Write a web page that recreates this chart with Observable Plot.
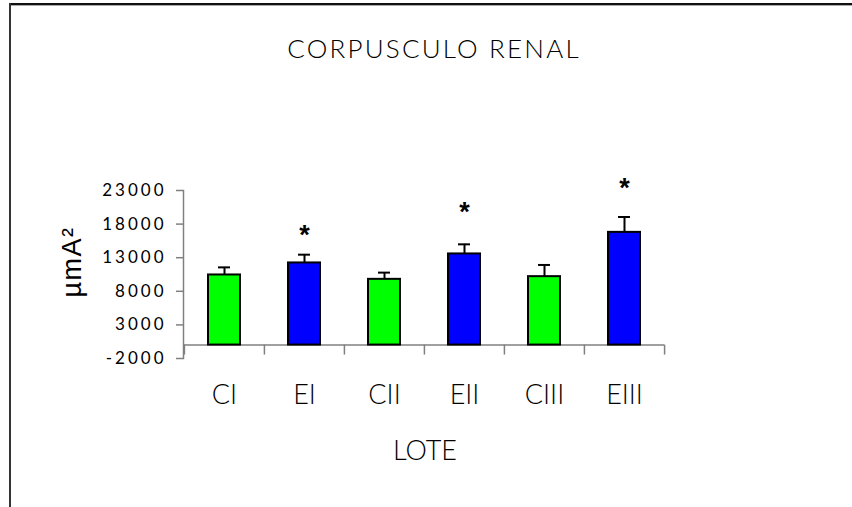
<!DOCTYPE html>
<html>
<head>
<meta charset="utf-8">
<script src="https://cdn.jsdelivr.net/npm/d3@7"></script>
<script src="https://cdn.jsdelivr.net/npm/@observablehq/plot@0.6"></script>
<style>
  html, body { margin: 0; padding: 0; background: #fff; }
  #wrap { position: relative; width: 852px; height: 507px; overflow: hidden; background: #fff; }
  #topline { position: absolute; left: 9px; top: 3px; width: 843px; height: 2px; background: #111; }
  #topline2 { position: absolute; left: 11px; top: 5px; width: 841px; height: 1px; background: #aaa; }
  #leftline { position: absolute; left: 9px; top: 3px; width: 2px; height: 504px; background: #333; }
  #title { position: absolute; left: 8px; top: 33px; width: 852px; text-align: center;
           font-family: Lato, sans-serif; font-weight: 300; font-size: 26px; line-height: 30px; letter-spacing: 2.2px; color: #000; }
  #xlabel { position: absolute; left: 0; top: 434px; width: 850px; text-align: center;
           font-family: Lato, sans-serif; font-weight: 300; font-size: 27px; line-height: 32px; color: #000; }
  #ylabel { position: absolute; left: 72px; top: 262px; transform: translate(-50%, -50%) rotate(-90deg);
           font-family: "Liberation Sans", Arial, sans-serif; font-size: 27px; letter-spacing: 1.5px; white-space: nowrap; color: #000; }
  #chart { position: absolute; left: 0; top: 80px; }
  #chart svg text { font-weight: 300; }
  #chart svg g[aria-label="text"] text { font-weight: bold; }
  g[aria-label="y-axis tick label"] text { letter-spacing: 3px; }
  #chart svg g[aria-label="y-axis tick label"] text { font-weight: 400; }
</style>
</head>
<body>
<div id="wrap">
  <div id="topline"></div>
  <div id="topline2"></div>
  <div id="leftline"></div>
  <div id="title">CORPUSCULO RENAL</div>
  <div id="chart"></div>
  <div id="xlabel">LOTE</div>
  <div id="ylabel">µmA²</div>
</div>
<script>
const categories = ["CI", "EI", "CII", "EII", "CIII", "EIII"];
const groups = ["C", "E", "C", "E", "C", "E"];
const means = [10430, 12220, 9780, 13560, 10180, 16770];
const errors = [1130, 1230, 1000, 1430, 1740, 2290];
const starLabels = ["", "*", "", "*", "", "*"];
const starY = [null, 16730, null, 20150, null, 23720];
const yTicks = [-2000, 3000, 8000, 13000, 18000, 23000];
const groupNames = ["C", "E"];
const groupColors = ["#00ff00", "#0000ff"];

const data = categories.map((c, i) => ({
  cat: c, group: groups[i], mean: means[i], err: errors[i],
  top: means[i] + errors[i], star: starLabels[i], starY: starY[i]
}));
const stars = data.filter(d => d.star);

const W = 852, H = 427;
const mL = 183, mR = 188, mT = 110, mB = 149;
const padIn = 0.6, padOut = 0.3;
const step = (W - mL - mR) / (categories.length - padIn + 2 * padOut);
const yDom = [yTicks[0], yTicks[yTicks.length - 1]];
const tickLen = 10 * (yDom[1] - yDom[0]) / (H - mT - mB);
const axisGrey = "#808080";

const chart = Plot.plot({
  width: W, height: H,
  marginLeft: mL, marginRight: mR, marginTop: mT, marginBottom: mB,
  style: { fontFamily: "Lato, sans-serif", color: "#000", background: "transparent", overflow: "visible" },
  x: { domain: categories, paddingInner: padIn, paddingOuter: padOut, label: null },
  y: { domain: yDom, label: null },
  color: { domain: groupNames, range: groupColors },
  marks: [
    Plot.frame({ anchor: "left", stroke: axisGrey, strokeWidth: 1.5 }),
    Plot.ruleY([0], { stroke: axisGrey, strokeWidth: 1.5 }),
    Plot.ruleX(categories, { x: d => d, dx: -step / 2, y1: 0, y2: -tickLen, stroke: axisGrey, strokeWidth: 1.5 }),
    Plot.ruleX(categories.slice(-1), { x: d => d, dx: step / 2, y1: 0, y2: -tickLen, stroke: axisGrey, strokeWidth: 1.5 }),
    Plot.axisY({ ticks: yTicks, tickSize: 7, tickPadding: 10, fontSize: 17, stroke: axisGrey, strokeWidth: 1.5,
      tickFormat: d => String(d), label: null }),
    Plot.axisX({ anchor: "bottom", tickSize: 0, tickPadding: 26, fontSize: 27, label: null }),
    Plot.ruleX(data, { x: "cat", y1: "mean", y2: "top", stroke: "#000", strokeWidth: 2 }),
    Plot.tickY(data, { x: "cat", y: "top", stroke: "#000", strokeWidth: 2, insetLeft: 10, insetRight: 10 }),
    Plot.barY(data, { x: "cat", y: "mean", fill: "group", stroke: "#000", strokeWidth: 2 }),
    Plot.text(stars, { x: "cat", y: "starY", text: "star", fontSize: 27, fontWeight: "bold",
      fontFamily: "'Liberation Sans', Arial, sans-serif", lineAnchor: "middle", dy: 3, fill: "#000" })
  ]
});
document.getElementById("chart").appendChild(chart);
</script>
</body>
</html>
